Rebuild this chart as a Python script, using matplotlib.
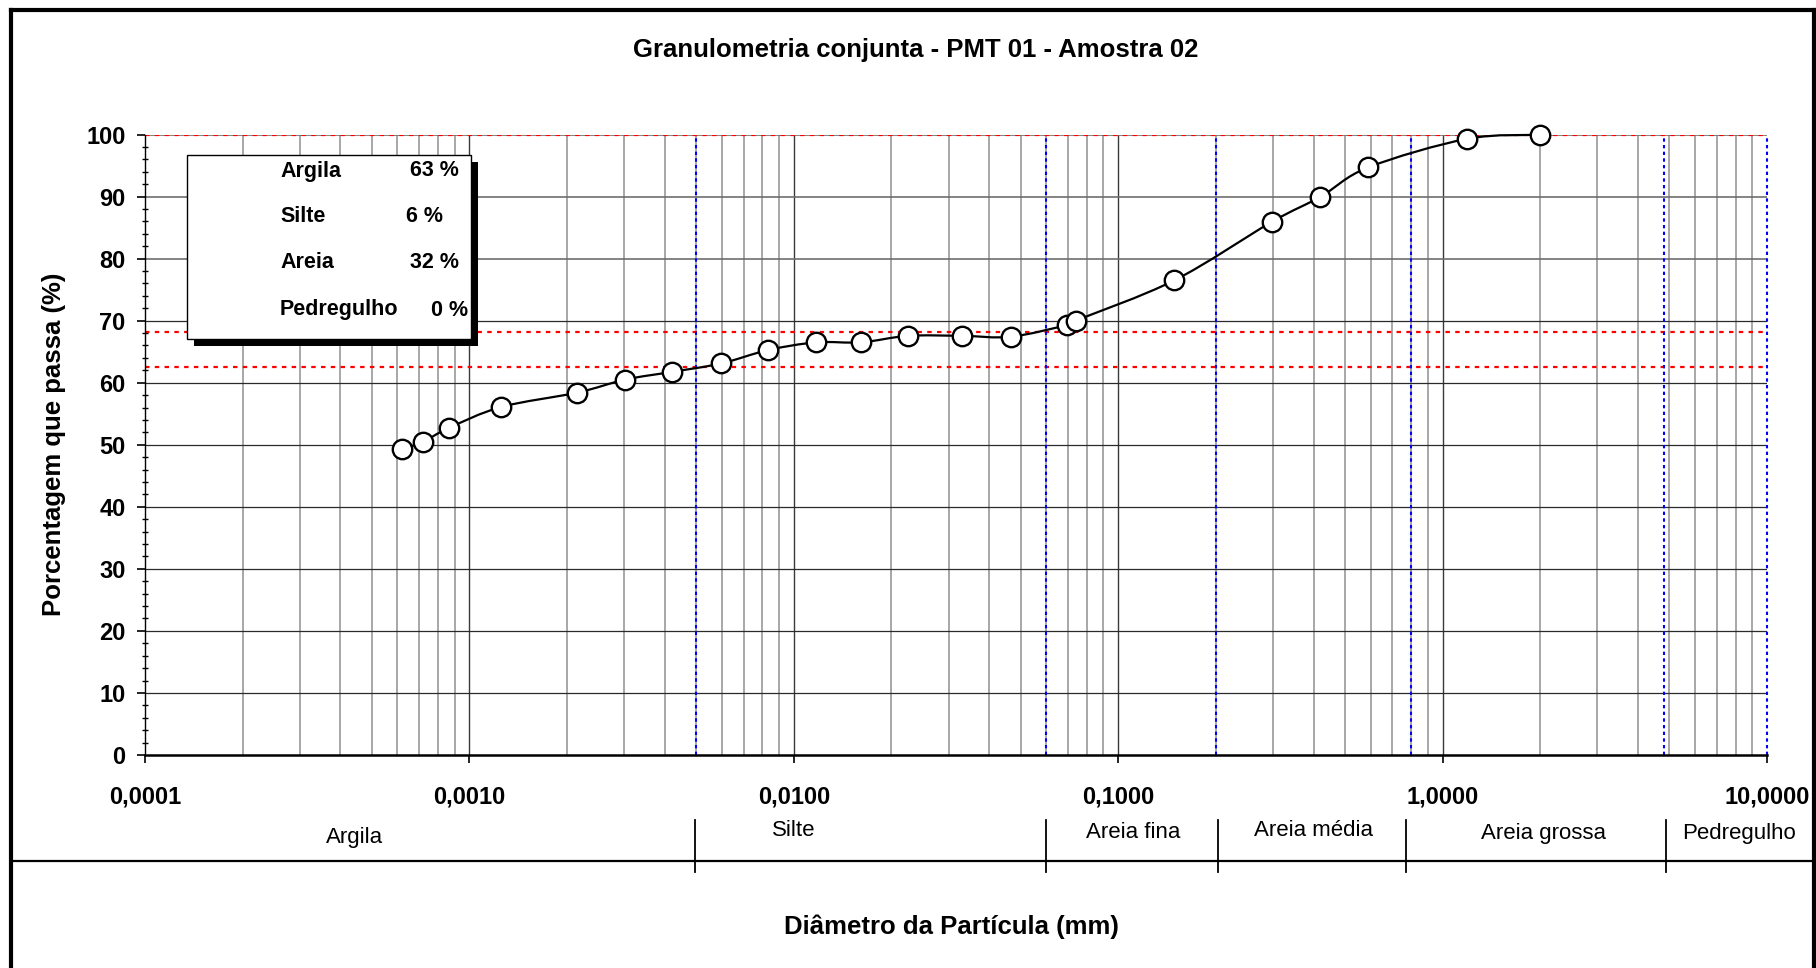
import numpy as np
import matplotlib
matplotlib.use("Agg")
import matplotlib.pyplot as plt
from matplotlib.path import Path
from matplotlib.patches import PathPatch, Rectangle
from matplotlib.lines import Line2D
import matplotlib.ticker as mticker

# ---------------- data ----------------
diametro = [0.000621, 0.000721, 0.000864, 0.001255, 0.00215, 0.00302, 0.00422,
            0.00597, 0.00832, 0.01172, 0.0161, 0.0225, 0.0330, 0.0466,
            0.0695, 0.074, 0.149, 0.297, 0.42, 0.59, 1.19, 2.0]
passa = [49.25, 50.5, 52.7, 56.1, 58.4, 60.5, 61.75,
         63.1, 65.25, 66.5, 66.5, 67.55, 67.55, 67.4,
         69.3, 70.0, 76.5, 85.9, 89.95, 94.7, 99.3, 99.95]

limites_classes = [0.005, 0.06, 0.2, 0.8, 4.8, 10.0]      # blue dotted boundaries
linhas_passa = [100.0, 68.1, 62.5]                          # red dotted levels
classes_faixa = ["Argila", "Silte", "Areia fina", "Areia média", "Areia grossa", "Pedregulho"]
classes_pos = [0.000444, 0.0100, 0.111, 0.399, 2.04, 8.2]   # label centres (mm)
classes_sep = [0.00497, 0.060, 0.2024, 0.771, 4.88]         # separators in band

leg_nomes = ["Argila", "Silte", "Areia", "Pedregulho"]
leg_valores = ["63 %", "6 %", "32 %", "0 %"]

xticks = [0.0001, 0.001, 0.01, 0.1, 1.0, 10.0]
xticklabels = ["0,0001", "0,0010", "0,0100", "0,1000", "1,0000", "10,0000"]
yticks = list(range(0, 101, 10))

titulo = "Granulometria conjunta - PMT 01 - Amostra 02"
xlabel = "Diâmetro da Partícula (mm)"
ylabel = "Porcentagem que passa (%)"

# ---------------- figure ----------------
W, H = 1816, 968
plt.rcParams['font.family'] = ['Liberation Sans', 'DejaVu Sans']
fig = plt.figure(figsize=(W / 100, H / 100), dpi=100)

def fx(px):
    return px / W

def fy(py):
    return 1 - py / H

ax_l, ax_r, ax_t, ax_b = 145, 1767, 134.5, 755
ax = fig.add_axes([fx(ax_l), fy(ax_b), (ax_r - ax_l) / W, (ax_b - ax_t) / H])
ax.set_xscale('log')
ax.set_xlim(1e-4, 10)
ax.set_ylim(0, 100)

# grid
for dec in [1e-4, 1e-3, 1e-2, 1e-1, 1.0]:
    for m in range(2, 10):
        ax.axvline(dec * m, color='#a0a0a0', lw=1.3, zorder=1)
for dec in [1e-3, 1e-2, 1e-1, 1.0]:
    ax.axvline(dec, color='#3a3a3a', lw=1.0, zorder=1)
for yv in yticks[1:]:
    ax.axhline(yv, color='#6e6e6e' if yv >= 80 else '#2a2a2a', lw=1.2 if yv >= 80 else 0.9, zorder=1)

# red and blue dotted reference lines
for yv in linhas_passa:
    ax.axhline(yv, color='#ff0000', lw=1.6, linestyle=(0, (2.0, 2.4)), zorder=2)
for xv in limites_classes:
    ax.axvline(xv, color='#0000ff', lw=1.5, linestyle=(0, (1.6, 1.6)), zorder=2, clip_on=False)

# smoothed curve (Excel-like Bezier through the points)
lx = np.log10(diametro)
py = np.array(passa)
n = len(lx)
verts = [(lx[0], py[0])]
codes = [Path.MOVETO]
for i in range(n - 1):
    p0 = np.array([lx[max(i - 1, 0)], py[max(i - 1, 0)]])
    p1 = np.array([lx[i], py[i]])
    p2 = np.array([lx[i + 1], py[i + 1]])
    p3 = np.array([lx[min(i + 2, n - 1)], py[min(i + 2, n - 1)]])
    c1 = p1 + (p2 - p0) / 6.0
    c2 = p2 - (p3 - p1) / 6.0
    verts += [tuple(c1), tuple(c2), tuple(p2)]
    codes += [Path.CURVE4] * 3
verts = [(10 ** vx, vy) for vx, vy in verts]
curve = PathPatch(Path(verts, codes), facecolor='none', edgecolor='black',
                  lw=1.6, transform=ax.transData, zorder=4, clip_on=False)
ax.add_patch(curve)
ax.plot(diametro, passa, linestyle='none', marker='o', ms=14, mfc='white',
        mec='black', mew=1.7, zorder=5, clip_on=False)

# spines and ticks
for s in ['top', 'right']:
    ax.spines[s].set_visible(False)
ax.spines['left'].set_color('black')
ax.spines['left'].set_linewidth(1.0)
ax.spines['bottom'].set_color('black')
ax.spines['bottom'].set_linewidth(1.8)
ax.set_xticks(xticks)
ax.set_xticklabels(xticklabels)
ax.xaxis.set_minor_locator(mticker.NullLocator())
ax.set_yticks(yticks)
ax.set_yticklabels([str(v) for v in yticks])
ax.yaxis.set_minor_locator(mticker.MultipleLocator(2))
ax.tick_params(axis='x', which='major', direction='out', length=6, width=1.2,
               labelsize=17, pad=16)
ax.tick_params(axis='y', which='major', direction='out', length=6, width=1.2,
               labelsize=17, pad=8)
ax.tick_params(axis='y', which='minor', direction='inout', length=5, width=1.0)
for lab in ax.get_xticklabels() + ax.get_yticklabels():
    lab.set_fontweight('bold')

ax.set_ylabel(ylabel, fontsize=18.5, fontweight='bold', va='center')
ax.yaxis.set_label_coords((54 - ax_l) / (ax_r - ax_l), 0.5)

# title and x label
fig.text(fx(916), fy(50), titulo, ha='center', va='center', fontsize=18.5, fontweight='bold')
fig.text(fx(951), fy(927), xlabel, ha='center', va='center', fontsize=18.5, fontweight='bold')

# legend box with shadow
bx0, bx1, by0, by1 = 187, 471, 155, 339
fig.patches.append(Rectangle((fx(bx0 + 7), fy(by1 + 7)), (bx1 - bx0) / W, (by1 - by0) / H,
                             transform=fig.transFigure, facecolor='black', edgecolor='none', zorder=10))
fig.patches.append(Rectangle((fx(bx0), fy(by1)), (bx1 - bx0) / W, (by1 - by0) / H,
                             transform=fig.transFigure, facecolor='white', edgecolor='black',
                             lw=1.0, zorder=11))
row_y = [171, 217, 263, 310]
val_x = [459, 443, 459, 468]
for nome, val, yy, vx in zip(leg_nomes, leg_valores, row_y, val_x):
    fig.text(fx(280), fy(yy), nome, ha='left', va='center', fontsize=15.5,
             fontweight='bold', zorder=12)
    fig.text(fx(vx), fy(yy), val, ha='right', va='center', fontsize=15.5,
             fontweight='bold', zorder=12)

# class band below axis
band = matplotlib.transforms.blended_transform_factory(ax.transData, fig.transFigure)
label_y = [838, 831, 833, 830, 834, 834]
for nome, xp, yy in zip(classes_faixa, classes_pos, label_y):
    fig.text(xp, fy(yy), nome, transform=band, ha='center', va='center', fontsize=16)
for xs in classes_sep:
    fig.add_artist(Line2D([xs, xs], [fy(820), fy(872)], transform=band, color='black', lw=1.3))
fig.add_artist(Line2D([fx(12), fx(1812)], [fy(860.5), fy(860.5)], transform=fig.transFigure,
                      color='black', lw=1.6))

# outer frame (left, top, right)
fw = 3.0
fig.add_artist(Line2D([fx(11.3), fx(11.3)], [0, fy(10)], transform=fig.transFigure, color='black', lw=fw,
                      solid_capstyle='projecting'))
fig.add_artist(Line2D([fx(11.3), fx(1813.8)], [fy(10), fy(10)], transform=fig.transFigure, color='black', lw=fw,
                      solid_capstyle='projecting'))
fig.add_artist(Line2D([fx(1813.8), fx(1813.8)], [0, fy(10)], transform=fig.transFigure, color='black', lw=fw,
                      solid_capstyle='projecting'))

fig.savefig("out.png", dpi=100, facecolor='white')
